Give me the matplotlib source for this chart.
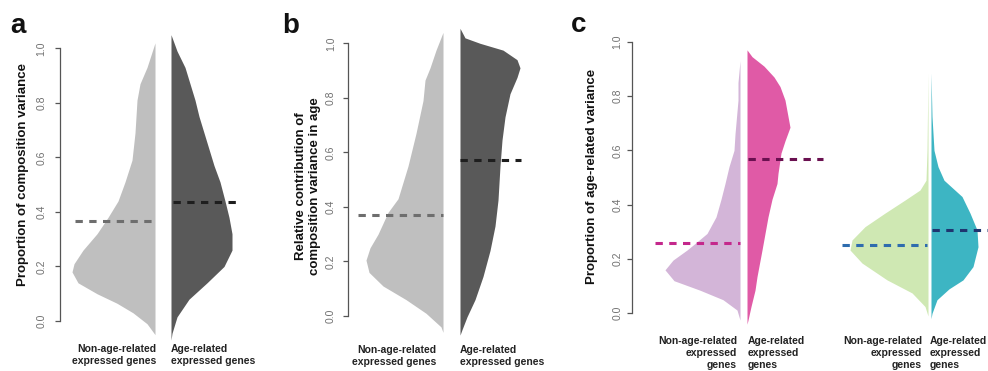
import matplotlib
matplotlib.use("Agg")
import matplotlib.pyplot as plt
import numpy as np
from matplotlib.ticker import FormatStrFormatter

plt.rcParams['font.family'] = ['Liberation Sans', 'DejaVu Sans']

W, H = 988, 371

# density outlines: (value, half-width)
a_left_y = [1.02, 0.93, 0.87, 0.81, 0.69, 0.59, 0.51, 0.44, 0.38, 0.32, 0.26, 0.21, 0.18, 0.14, 0.10, 0.065, 0.03, -0.01, -0.05]
a_left_w = [0, 8, 15, 18, 20, 23, 30, 37, 47, 58, 72, 81, 83, 77, 58, 38, 22, 8, 0]
a_right_y = [1.05, 0.99, 0.93, 0.87, 0.81, 0.75, 0.69, 0.63, 0.57, 0.51, 0.44, 0.38, 0.32, 0.26, 0.20, 0.14, 0.08, 0.015, -0.045, -0.07]
a_right_w = [0, 6, 14, 19, 24, 28, 33, 38, 43, 49, 54, 58, 61, 61, 53, 36, 18, 6, 1, 0]

b_left_y = [1.04, 0.975, 0.91, 0.865, 0.79, 0.67, 0.55, 0.43, 0.38, 0.30, 0.25, 0.205, 0.16, 0.11, 0.06, 0.01, -0.04, -0.06]
b_left_w = [0, 7, 13, 18, 20, 27, 35, 45, 55, 65, 73, 77, 74, 60, 37, 17, 2, 0]
b_right_y = [1.055, 1.02, 1.0, 0.975, 0.94, 0.91, 0.875, 0.815, 0.73, 0.645, 0.55, 0.425, 0.33, 0.24, 0.145, 0.06, -0.003, -0.05, -0.07]
b_right_w = [0, 5, 20, 43, 57, 60, 57, 50, 45, 42, 40, 38, 35, 30, 23, 15, 7, 2, 0]

c1_left_y = [0.93, 0.85, 0.785, 0.66, 0.60, 0.54, 0.478, 0.42, 0.355, 0.294, 0.26, 0.233, 0.196, 0.16, 0.12, 0.085, 0.05, 0.012, -0.025]
c1_left_w = [0, 2, 2, 5, 6, 11, 15, 19, 24, 33, 44, 53, 67, 75, 66, 40, 17, 3, 0]
c1_right_y = [0.97, 0.945, 0.91, 0.87, 0.835, 0.785, 0.725, 0.685, 0.635, 0.59, 0.515, 0.478, 0.42, 0.355, 0.233, 0.135, 0.085, 0.025, -0.025, -0.04]
c1_right_w = [0, 5, 17, 27, 33, 38, 41, 43, 38, 34, 31, 30, 25, 21, 15, 10, 8, 4, 1, 0]

c2_left_y = [0.885, 0.6, 0.49, 0.454, 0.417, 0.369, 0.319, 0.27, 0.233, 0.185, 0.123, 0.075, 0.025, -0.01]
c2_left_w = [0, 1, 2, 8, 23, 43, 63, 76, 78, 66, 41, 16, 3, 0]
c2_right_y = [0.885, 0.725, 0.60, 0.54, 0.49, 0.43, 0.369, 0.307, 0.245, 0.172, 0.123, 0.09, 0.05, 0.0, -0.02]
c2_right_w = [0, 1, 3, 7, 13, 31, 39, 46, 47, 42, 32, 18, 6, 1, 0]

# group means (dashed lines)
a_means = [0.368, 0.437]
b_means = [0.370, 0.572]
c1_means = [0.258, 0.567]
c2_means = [0.252, 0.307]

lab_non = "Non-age-related\nexpressed genes"
lab_age = "Age-related\nexpressed genes"
lab_non3 = "Non-age-related\nexpressed\ngenes"
lab_age3 = "Age-related\nexpressed\ngenes"

fig = plt.figure(figsize=(W / 100, H / 100), dpi=100)


def px(x, y):
    return x / W, 1 - y / H


def make_axes(x0, x1, y_zero, y_one, pad):
    ax = fig.add_axes([x0 / W, (H - y_zero) / H, (x1 - x0) / W, (y_zero - y_one) / H])
    ax.set_xlim(x0, x1)
    ax.set_ylim(0, 1)
    ax.patch.set_visible(False)
    for s in ['top', 'right', 'bottom']:
        ax.spines[s].set_visible(False)
    ax.spines['left'].set_color('#555555')
    ax.spines['left'].set_linewidth(0.9)
    ax.set_xticks([])
    ax.set_yticks(np.arange(0, 1.01, 0.2))
    ax.yaxis.set_major_formatter(FormatStrFormatter('%.1f'))
    ax.tick_params(axis='y', length=3.6, width=0.9, color='#555555',
                   labelcolor='#707070', labelsize=7.5, pad=pad, labelrotation=90)
    for lab in ax.get_yticklabels():
        lab.set_va('center')
    return ax


def bean(ax, edge, ys, ws, color, side):
    ys = np.array(ys)
    ws = np.array(ws)
    if side == 'left':
        ax.fill_betweenx(ys, edge - ws, edge, color=color, lw=0, clip_on=False)
    else:
        ax.fill_betweenx(ys, edge, edge + ws, color=color, lw=0, clip_on=False)


def mean_line(ax, x0, x1, y, color):
    ax.plot([x0, x1], [y, y], color=color, lw=2.2, ls=(0, (2.4, 2.1)),
            clip_on=False, solid_capstyle='butt', dash_capstyle='butt')


# panel a
ax = make_axes(60, 250, 321, 48.3, 6)
bean(ax, 155, a_left_y, a_left_w, '#bfbfbf', 'left')
bean(ax, 171, a_right_y, a_right_w, '#595959', 'right')
mean_line(ax, 75, 155, a_means[0], '#6e6e6e')
mean_line(ax, 173, 237, a_means[1], '#1e1e1e')

# panel b
ax = make_axes(348, 540, 316, 43.3, 5)
bean(ax, 443, b_left_y, b_left_w, '#bfbfbf', 'left')
bean(ax, 460, b_right_y, b_right_w, '#595959', 'right')
mean_line(ax, 358, 443, b_means[0], '#6e6e6e')
mean_line(ax, 460, 521, b_means[1], '#1e1e1e')

# panel c
ax = make_axes(632, 988, 313.3, 41.7, 3.5)
bean(ax, 740, c1_left_y, c1_left_w, '#d3b5d8', 'left')
bean(ax, 747, c1_right_y, c1_right_w, '#e05aa6', 'right')
mean_line(ax, 655, 740, c1_means[0], '#c4288c')
mean_line(ax, 748, 823, c1_means[1], '#6a1050')
bean(ax, 928, c2_left_y, c2_left_w, '#cfe8b3', 'left')
bean(ax, 931, c2_right_y, c2_right_w, '#3db5c3', 'right')
mean_line(ax, 842, 927, c2_means[0], '#2e6cae')
mean_line(ax, 932, 988, c2_means[1], '#1f3570')

# group labels
lab_kw = dict(fontsize=7.5, fontweight='bold', color='#222222', va='center', linespacing=1.25)
for xr, xl, yc in [(156, 171, 355), (436, 460, 356)]:
    fig.text(*px(xr, yc), lab_non, ha='right', multialignment='right', **lab_kw)
    fig.text(*px(xl, yc), lab_age, ha='left', multialignment='left', **lab_kw)
for xr, xl in [(737, 748), (922, 930)]:
    fig.text(*px(xr, 353), lab_non3, ha='right', multialignment='right', **lab_kw)
    fig.text(*px(xl, 353), lab_age3, ha='left', multialignment='left', **lab_kw)

# axis titles
yl_kw = dict(fontsize=9.5, fontweight='bold', color='#111111', rotation=90,
             ha='center', va='center')
fig.text(*px(23, 175), "Proportion of composition variance", **yl_kw)
fig.text(*px(308, 186), "Relative contribution of\ncomposition variance in age",
         linespacing=1.2, **yl_kw)
fig.text(*px(592, 176), "Proportion of age-related variance", **yl_kw)

# panel letters
let_kw = dict(fontsize=20, fontweight='bold', color='#111111', va='baseline', ha='left')
fig.text(*px(10, 33), "a", **let_kw)
fig.text(*px(282, 33), "b", **let_kw)
fig.text(*px(571, 32), "c", **let_kw)

fig.savefig("out.png", dpi=100)
